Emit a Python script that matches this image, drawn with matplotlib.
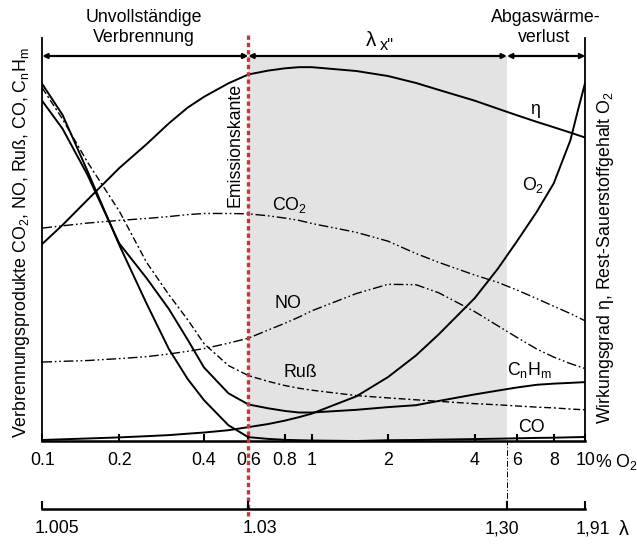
import numpy as np
import matplotlib
matplotlib.use("Agg")
import matplotlib.pyplot as plt
from matplotlib.transforms import ScaledTranslation

plt.rcParams['font.family'] = ['Liberation Sans', 'DejaVu Sans']
plt.rcParams['mathtext.fontset'] = 'custom'
plt.rcParams['mathtext.rm'] = 'Liberation Sans'
plt.rcParams['mathtext.it'] = 'Liberation Sans:italic'
plt.rcParams['mathtext.default'] = 'rm'

# ---------------- data ----------------
o2_pct = [0.1, 0.12, 0.15, 0.2, 0.25, 0.3, 0.35, 0.4, 0.5, 0.6, 0.7, 0.8, 0.9,
          1, 1.5, 2, 2.5, 3, 4, 5, 6, 7, 8, 9, 10]
eta = [51.2, 56.1, 62.6, 70.9, 77.1, 82.5, 86.6, 89.4, 92.9, 95.2, 96.2, 96.8, 97.1,
       97.1, 96.1, 94.8, 93.0, 91.2, 88.4, 86.3, 84.6, 82.9, 81.5, 80.1, 78.8]
co2 = [55.3, 55.9, 56.6, 57.3, 57.8, 58.3, 58.8, 59.1, 59.1, 59.0, 58.5, 57.9, 57.3,
       56.5, 54.2, 51.9, 48.7, 46.4, 43.1, 41.2, 39.2, 37.0, 35.0, 33.1, 31.2]
no = [20.5, 20.7, 20.9, 21.4, 21.9, 22.6, 23.3, 24.0, 25.4, 26.7, 28.8, 30.6, 32.2,
      33.8, 38.3, 40.7, 40.6, 38.5, 33.6, 29.9, 26.9, 23.9, 21.8, 20.1, 18.8]
russ = [91.7, 83.6, 72.5, 59.7, 46.4, 38.0, 31.5, 25.3, 19.6, 17.0, 15.5, 14.4, 13.7,
        13.2, 11.8, 11.2, 10.7, 10.3, 9.7, 9.4, 9.1, 8.8, 8.6, 8.3, 8.1]
co = [92.7, 84.7, 70.2, 50.9, 35.7, 23.9, 16.1, 10.6, 4.1, 1.0, 0.55, 0.3, 0.2,
      0.13, 0.0, 0.2, 0.26, 0.36, 0.5, 0.6, 0.7, 0.8, 0.86, 0.96, 1.04]
cnhm = [88.3, 81.1, 69.2, 51.3, 42.3, 34.3, 26.3, 19.1, 12.4, 9.5, 8.5, 7.8, 7.4,
        7.4, 8.1, 8.8, 9.3, 10.4, 12.1, 13.1, 13.9, 14.6, 14.9, 15.1, 15.3]
o2_x = [0.1, 0.12, 0.15, 0.2, 0.25, 0.3, 0.35, 0.4, 0.5, 0.6, 0.7, 0.8, 0.9,
        1, 1.5, 2, 2.5, 3, 4, 5, 6, 7, 8, 9, 9.5, 10]
o2_rest = [0.26, 0.44, 0.65, 0.94, 1.25, 1.53, 1.9, 2.2, 2.8, 3.6, 4.4, 5.3, 6.2,
           7.1, 11.6, 16.6, 22.2, 27.7, 37.1, 44.8, 51.9, 59.5, 66.9, 78.1, 86.0, 93.2]

o2_ticks = [0.1, 0.2, 0.4, 0.6, 0.8, 1, 2, 4, 6, 8, 10]
o2_ticklabels = ['0.1', '0.2', '0.4', '0.6', '0.8', '1', '2', '4', '6', '8', '10']
lambda_labels = ['1.005', '1.03', '1,30', '1,91']
lambda_at_o2 = [0.1, 0.6, 5.45, 10]

# ---------------- scale calibration of the drawn O2 axis ----------------
_cal_log = np.log10(o2_ticks)
_cal_pos = np.array([42.3, 119.3, 204, 248.3, 285, 311.7, 388, 474.7, 517, 553.7, 585.3])


def _fwd(x):
    x = np.asarray(x, dtype=float)
    return np.interp(np.log10(np.clip(x, 1e-9, None)), _cal_log, _cal_pos)


def _inv(p):
    p = np.asarray(p, dtype=float)
    return 10 ** np.interp(p, _cal_pos, _cal_log)


W, H = 637, 545
fig = plt.figure(figsize=(W / 100, H / 100), dpi=100)
ymax = 403 / 3.85
ax = fig.add_axes([42.3 / W, (H - 441) / H, 543 / W, 403 / H])
ax.set_xscale('function', functions=(_fwd, _inv))
ax.set_xlim(0.1, 10)
ax.set_ylim(0, ymax)
ax.patch.set_alpha(0)

FS = 12.8
# grey band (lambda x'' region)
ax.fill_between([lambda_at_o2[1], lambda_at_o2[2]], 0, 100, color='#e3e3e3',
                lw=0, zorder=0)

dd = (0, (7, 2, 1.2, 2, 1.2, 2))
ax.plot(o2_pct, eta, color='k', lw=1.4, zorder=3)
ax.plot(o2_x, o2_rest, color='k', lw=1.4, zorder=3)
ax.plot(o2_pct, co, color='k', lw=1.4, zorder=3)
ax.plot(o2_pct, cnhm, color='k', lw=1.4, zorder=3)
ax.plot(o2_pct, co2, color='k', lw=1.0, ls=dd, zorder=3)
ax.plot(o2_pct, no, color='k', lw=1.0, ls=dd, zorder=3)
ax.plot(o2_pct, russ, color='k', lw=1.0, ls=(0, (5, 2, 1.5, 2)), zorder=3)

# red emission edge and lambda 1.30 marker
ax.plot([lambda_at_o2[1]] * 2, [-19.5, 106], color='#cc3333', lw=2.4,
        ls=(0, (1.3, 0.9)), clip_on=False, zorder=5)
ax.plot([lambda_at_o2[2]] * 2, [-17.7, 0], color='k', lw=0.7,
        ls=(0, (6, 2, 1, 2)), clip_on=False, zorder=2)

# top arrows
for a, b in [(lambda_at_o2[0], lambda_at_o2[1]), (lambda_at_o2[1], lambda_at_o2[2]),
             (lambda_at_o2[2], lambda_at_o2[3])]:
    ax.annotate('', xy=(b, 100), xytext=(a, 100), annotation_clip=False,
                arrowprops=dict(arrowstyle='<|-|>', lw=1.6, color='k',
                                mutation_scale=7, shrinkA=0, shrinkB=0), zorder=4)

# spines / ticks
ax.spines['top'].set_visible(False)
ax.spines['left'].set_linewidth(1.3)
ax.spines['right'].set_linewidth(1.3)
ax.spines['bottom'].set_linewidth(1.8)
ax.set_yticks([])
ax.set_xticks(o2_ticks)
ax.set_xticklabels(o2_ticklabels)
ax.xaxis.set_minor_locator(matplotlib.ticker.NullLocator())
ax.tick_params(axis='x', direction='in', length=5, width=1.5, pad=8, labelsize=FS)

# curve labels
ax.text(6.9, 86.0, 'η', fontsize=FS, ha='center', va='center')
ax.text(6.8, 66.5, 'O$_2$', fontsize=FS, ha='center', va='center')
ax.text(0.834, 61.3, 'CO$_2$', fontsize=FS, ha='center', va='center')
ax.text(0.82, 35.8, 'NO', fontsize=FS, ha='center', va='center')
ax.text(0.907, 17.7, 'Ruß', fontsize=FS, ha='center', va='center')
ax.text(6.64, 18.4, 'C$_n$H$_m$', fontsize=FS, ha='center', va='center')
ax.text(6.7, 3.4, 'CO', fontsize=FS, ha='center', va='center')
ax.text(0.531, 76.9, 'Emissionskante', fontsize=FS, ha='center', va='center',
        rotation=90)

# lambda axis
ax2 = fig.add_axes([42.3 / W, (H - 509) / H, 543 / W, 1e-4])
ax2.set_xscale('function', functions=(_fwd, _inv))
ax2.set_xlim(0.1, 10)
ax2.patch.set_alpha(0)
for s in ['top', 'left', 'right']:
    ax2.spines[s].set_visible(False)
ax2.spines['bottom'].set_linewidth(1.8)
ax2.set_yticks([])
ax2.xaxis.set_minor_locator(matplotlib.ticker.NullLocator())
ax2.tick_params(axis='x', direction='in', length=6, width=1.5, pad=8, labelsize=FS)
ax2.set_xticks(lambda_at_o2)
ax2.set_xticklabels(lambda_labels)
for lbl, dx in zip(ax2.get_xticklabels(), [15, 12, -5, 8]):
    lbl.set_transform(lbl.get_transform() + ScaledTranslation(dx / 100, 0, fig.dpi_scale_trans))

# extra unit texts
fig.text(595 / W, 1 - 452 / H, '% O$_2$', fontsize=FS, ha='left', va='top')
fig.text(619 / W, 1 - 520 / H, 'λ', fontsize=FS + 1.5, ha='left', va='top')

# headers
fig.text(143.5 / W, 1 - 17 / H, 'Unvollständige', fontsize=FS, ha='center', va='center')
fig.text(143.5 / W, 1 - 38 / H, 'Verbrennung', fontsize=FS, ha='center', va='center')
fig.text(366 / W, 1 - 40 / H, 'λ', fontsize=FS + 2, ha='left', va='center')
fig.text(380 / W, 1 - 45 / H, 'x"', fontsize=FS - 1, ha='left', va='center')
fig.text(546 / W, 1 - 17 / H, 'Abgaswärme-', fontsize=FS, ha='center', va='center')
fig.text(544 / W, 1 - 38 / H, 'verlust', fontsize=FS, ha='center', va='center')

# axis titles
fig.text(22 / W, 1 - 243 / H, 'Verbrennungsprodukte CO$_2$, NO, Ruß, CO, C$_n$H$_m$',
         fontsize=FS, ha='center', va='center', rotation=90)
fig.text(605 / W, 1 - 257 / H, 'Wirkungsgrad η, Rest-Sauerstoffgehalt O$_2$',
         fontsize=FS, ha='center', va='center', rotation=90)

fig.savefig('out.png', dpi=100)
